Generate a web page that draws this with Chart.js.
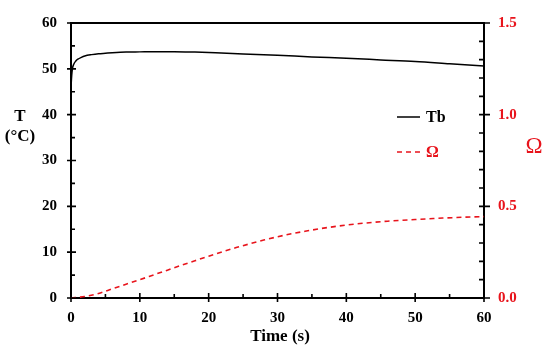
<!DOCTYPE html>
<html lang="en">
<head>
    <meta charset="UTF-8">
    <title>Tb and Omega</title>
    <script src="https://cdn.jsdelivr.net/npm/chart.js"></script>
    <style>
        body { margin: 0; background: #fff; }
        #wrap { width: 550px; height: 352px; }
    </style>
</head>
<body>
    <div id="wrap"><canvas id="myChart"></canvas></div>

    <script>
        // data
        var tbTime = [0, 0.1, 0.2, 0.4, 0.7, 1, 1.5, 2, 3, 4, 5, 6, 8, 10, 12, 15, 18, 21, 25, 30, 35, 40, 45, 50, 55, 60];
        var tbValues = [46, 48.5, 50, 51, 51.7, 52.1, 52.5, 52.8, 53.1, 53.3, 53.4, 53.5, 53.65, 53.7, 53.75, 53.75, 53.65, 53.5, 53.25, 52.95, 52.6, 52.3, 51.95, 51.6, 51.1, 50.6];

        var omegaTime = [0, 2, 4, 6, 8, 10, 12, 14, 16, 18, 20, 22, 24, 26, 28, 30, 32, 34, 36, 38, 40, 42, 44, 46, 48, 50, 52, 54, 56, 58, 60];
        var omegaValues = [0, 0.008, 0.025, 0.05, 0.075, 0.1, 0.126, 0.152, 0.178, 0.203, 0.228, 0.252, 0.275, 0.296, 0.316, 0.334, 0.35, 0.364, 0.377, 0.388, 0.398, 0.406, 0.413, 0.419, 0.424, 0.428, 0.432, 0.436, 0.439, 0.442, 0.444];

        var xTicks = [0, 10, 20, 30, 40, 50, 60];
        var tTicks = [0, 10, 20, 30, 40, 50, 60];
        var omegaTicks = [0, 0.5, 1.0, 1.5];

        var serif = '"Liberation Serif", "Times New Roman", serif';
        var red = '#e8141c';

        function pts(xs, ys) {
            return xs.map(function (x, i) { return { x: x, y: ys[i] }; });
        }

        // axis ticks, top frame, titles and legend
        var decor = {
            id: 'decor',
            afterDraw: function (chart) {
                var ctx = chart.ctx;
                var a = chart.chartArea;
                var x = chart.scales.x, y = chart.scales.y, y1 = chart.scales.y1;
                ctx.save();
                ctx.strokeStyle = '#000';
                ctx.lineWidth = 2;
                ctx.beginPath();
                ctx.moveTo(a.left - 1, a.top);
                ctx.lineTo(a.right + 1, a.top);
                ctx.stroke();

                ctx.lineWidth = 1.6;
                ctx.beginPath();
                var v, p;
                for (v = 0; v <= 60; v += 5) {
                    p = x.getPixelForValue(v);
                    var major = v % 10 === 0;
                    ctx.moveTo(p, a.bottom + (major ? 4 : 0));
                    ctx.lineTo(p, a.bottom - (major ? 5 : 4));
                    p = y.getPixelForValue(v);
                    ctx.moveTo(a.left - (major ? 4 : 0), p);
                    ctx.lineTo(a.left + (major ? 5 : 4), p);
                }
                for (var k = 0; k <= 15; k++) {
                    p = y1.getPixelForValue(k / 10);
                    var maj = k % 5 === 0;
                    ctx.moveTo(a.right + (maj ? 6 : 0), p);
                    ctx.lineTo(a.right - 5, p);
                }
                ctx.stroke();

                // titles
                ctx.fillStyle = '#000';
                ctx.textAlign = 'center';
                ctx.textBaseline = 'middle';
                ctx.font = 'bold 17px ' + serif;
                ctx.fillText('T', 20, 117);
                ctx.fillText('(°C)', 20, 137);
                ctx.fillText('Time (s)', 280, 337);
                ctx.fillStyle = red;
                ctx.font = '23px ' + serif;
                ctx.fillText('Ω', 534, 147);

                // legend
                var ds = chart.data.datasets;
                var rows = [117, 152];
                ctx.textAlign = 'left';
                ctx.font = 'bold 16px ' + serif;
                ds.forEach(function (d, i) {
                    ctx.strokeStyle = d.borderColor;
                    ctx.lineWidth = d.borderWidth;
                    ctx.setLineDash(d.borderDash || []);
                    ctx.beginPath();
                    ctx.moveTo(397, rows[i]);
                    ctx.lineTo(420, rows[i]);
                    ctx.stroke();
                    ctx.setLineDash([]);
                    ctx.fillStyle = d.borderColor;
                    ctx.fillText(d.label, 426, rows[i] + 1);
                });
                ctx.restore();
            }
        };

        var tickFont = { family: serif, size: 15, weight: 'bold' };

        var config = {
            type: 'line',
            data: {
                datasets: [
                    {
                        label: 'Tb',
                        data: pts(tbTime, tbValues),
                        borderColor: '#000',
                        borderWidth: 1.5,
                        pointRadius: 0,
                        cubicInterpolationMode: 'monotone',
                        yAxisID: 'y'
                    },
                    {
                        label: 'Ω',
                        data: pts(omegaTime, omegaValues),
                        borderColor: red,
                        borderWidth: 1.6,
                        borderDash: [5, 4],
                        pointRadius: 0,
                        cubicInterpolationMode: 'monotone',
                        yAxisID: 'y1'
                    }
                ]
            },
            options: {
                responsive: false,
                animation: false,
                layout: { padding: { top: 14, left: 0, right: 0, bottom: 0 } },
                plugins: { legend: { display: false }, tooltip: { enabled: false } },
                scales: {
                    x: {
                        type: 'linear',
                        min: 0, max: 60,
                        afterBuildTicks: function (s) { s.ticks = xTicks.map(function (v) { return { value: v }; }); },
                        afterFit: function (s) { s.height = 54; },
                        grid: { display: false, drawTicks: false },
                        border: { display: true, color: '#000', width: 2 },
                        ticks: { color: '#000', font: tickFont, padding: 11, maxRotation: 0 }
                    },
                    y: {
                        position: 'left',
                        min: 0, max: 60,
                        afterBuildTicks: function (s) { s.ticks = tTicks.map(function (v) { return { value: v }; }); },
                        afterFit: function (s) { s.width = 71; },
                        grid: { display: false, drawTicks: false },
                        border: { display: true, color: '#000', width: 2 },
                        ticks: { color: '#000', font: tickFont, padding: 14 }
                    },
                    y1: {
                        position: 'right',
                        min: 0, max: 1.5,
                        afterBuildTicks: function (s) { s.ticks = omegaTicks.map(function (v) { return { value: v }; }); },
                        afterFit: function (s) { s.width = 66; },
                        grid: { display: false, drawTicks: false },
                        border: { display: true, color: '#000', width: 2 },
                        ticks: {
                            color: red, font: tickFont, padding: 14,
                            callback: function (v) { return Number(v).toFixed(1); }
                        }
                    }
                }
            },
            plugins: [decor]
        };

        var canvas = document.getElementById('myChart');
        canvas.width = 550;
        canvas.height = 352;
        var myChart = new Chart(canvas.getContext('2d'), config);
    </script>
</body>
</html>
